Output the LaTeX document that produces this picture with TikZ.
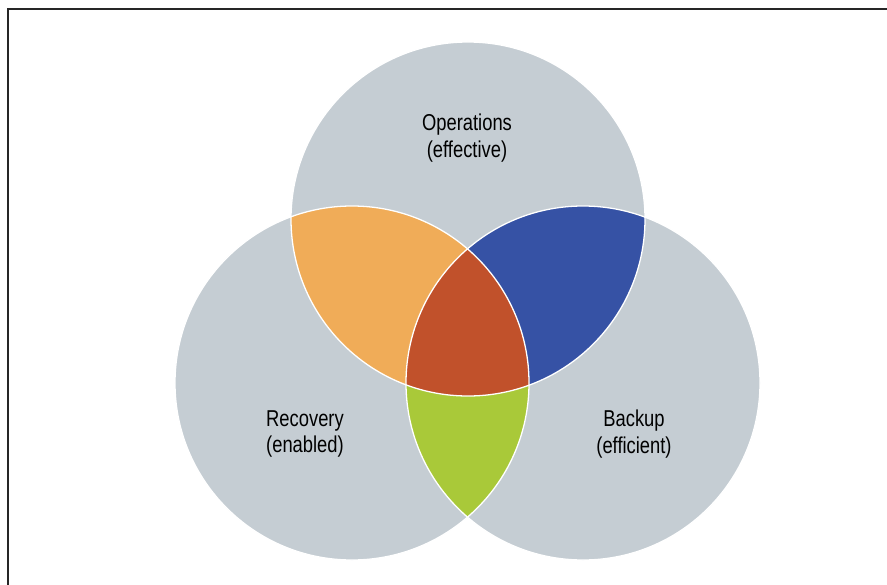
\documentclass[tikz,border=0pt]{standalone}
\usepackage{fontspec}
\setmainfont{Liberation Sans}[FakeStretch=0.8]
\usetikzlibrary{positioning}
\definecolor{setgray}{HTML}{C5CDD3}
\definecolor{opsrec}{HTML}{F0AC58}
\definecolor{opsbak}{HTML}{3652A5}
\definecolor{recbak}{HTML}{A9C939}
\definecolor{allthree}{HTML}{C1512B}
\tikzset{x=0.03cm, y=-0.03cm, % one unit is one pixel of the original
set circle/.style={ % Grey disc for each set
fill=setgray},
set edge/.style={ % White line round every overlap
draw=white,
line width=1.1pt},
set text/.style={ % Label inside each set
align=center,
font=\fontsize{19.6}{22.4}\selectfont},
frame/.style={ % Open frame at top and left
draw=black!85,
line width=1.4pt}}
\newcommand{\setr}{5.31cm}

\begin{document}
\begin{tikzpicture}
    \useasboundingbox (0,0) rectangle (887,585);
    \coordinate (ops) at (468,219);
    \coordinate (rec) at (352,383);
    \coordinate (bak) at (583,383);
    \draw[frame] (8,585) -- (8,9) -- (887,9);
    % the three sets
    \fill[set circle] (ops) circle (\setr);
    \fill[set circle] (rec) circle (\setr);
    \fill[set circle] (bak) circle (\setr);
    % overlaps of two
    \begin{scope}
      \clip (ops) circle (\setr);
      \fill[opsrec] (rec) circle (\setr);
      \fill[opsbak] (bak) circle (\setr);
    \end{scope}
    \begin{scope}
      \clip (rec) circle (\setr);
      \fill[recbak] (bak) circle (\setr);
    \end{scope}
    % overlap of all three
    \begin{scope}
      \clip (ops) circle (\setr);
      \clip (rec) circle (\setr);
      \fill[allthree] (bak) circle (\setr);
    \end{scope}
    \draw[set edge] (ops) circle (\setr);
    \draw[set edge] (rec) circle (\setr);
    \draw[set edge] (bak) circle (\setr);
    \node[set text] (opslabel) at (467,138) {Operations\\(effective)};
    \node[set text] (reclabel) at (305,434) {Recovery\\(enabled)};
    \node[set text] (baklabel) at (634,434) {Backup\\(efficient)};
  \end{tikzpicture}
\end{document}
